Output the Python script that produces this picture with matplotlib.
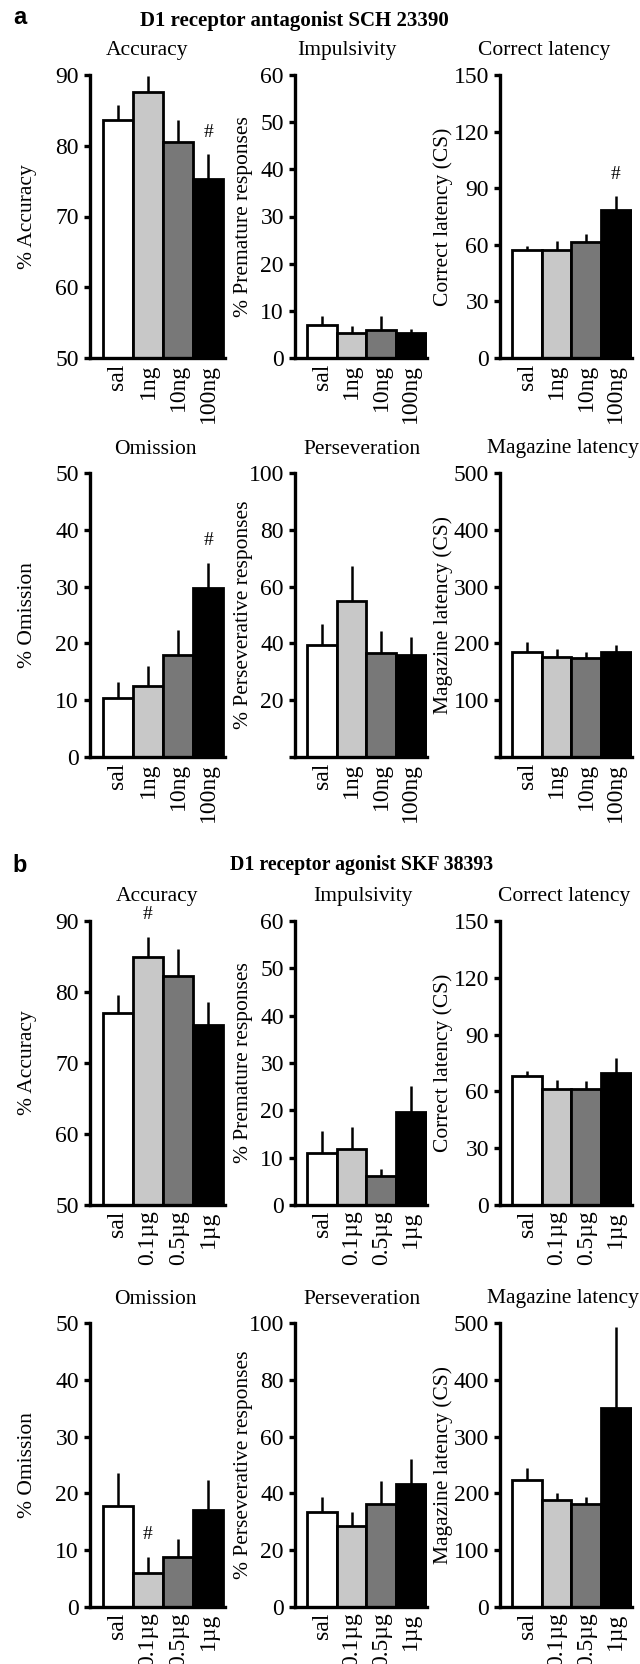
import matplotlib
matplotlib.use("Agg")
import matplotlib.pyplot as plt

# =========================
# DATA
# =========================
doses_a = ["sal", "1ng", "10ng", "100ng"]
doses_b = ["sal", "0.1\u00b5g", "0.5\u00b5g", "1\u00b5g"]
bar_colors = ["white", "#c8c8c8", "#787878", "black"]

# a: D1 receptor antagonist SCH 23390 (mean, upper SEM)
a_accuracy = [83.7, 87.6, 80.5, 75.3]
a_accuracy_err = [2.0, 2.2, 3.2, 3.5]
a_impulsivity = [7.0, 5.2, 5.9, 5.4]
a_impulsivity_err = [1.9, 1.6, 3.0, 0.7]
a_correct_lat = [57.4, 57.4, 61.4, 78.2]
a_correct_lat_err = [2.1, 4.7, 4.4, 7.5]
a_omission = [10.4, 12.5, 18.0, 29.8]
a_omission_err = [2.8, 3.5, 4.4, 4.4]
a_persev = [39.5, 55.1, 36.6, 35.8]
a_persev_err = [7.2, 12.3, 7.6, 6.4]
a_magazine = [185, 176.5, 173.5, 184]
a_magazine_err = [18, 14.5, 11.5, 14]

# b: D1 receptor agonist SKF 38393
b_accuracy = [77.1, 84.9, 82.3, 75.4]
b_accuracy_err = [2.5, 2.9, 3.8, 3.2]
b_impulsivity = [10.9, 11.8, 6.2, 19.7]
b_impulsivity_err = [4.8, 4.6, 1.5, 5.4]
b_correct_lat = [67.9, 61.2, 61.2, 69.9]
b_correct_lat_err = [2.9, 4.8, 4.4, 7.6]
b_omission = [17.7, 6.0, 8.8, 17.1]
b_omission_err = [5.9, 2.8, 3.1, 5.2]
b_persev = [33.5, 28.4, 36.2, 43.4]
b_persev_err = [5.2, 5.1, 8.0, 8.8]
b_magazine = [223.5, 188, 180.6, 350]
b_magazine_err = [20.5, 13, 13.4, 143]

# significance (#) bar index per panel, None = no marker
a_sig = [3, None, 3, 3, None, None]
b_sig = [1, None, None, 1, None, None]

titles = ["Accuracy", "Impulsivity", "Correct latency",
          "Omission", "Perseveration", "Magazine latency"]
ylabels = ["% Accuracy", "% Premature responses", "Correct latency (CS)",
           "% Omission", "% Perseverative responses", "Magazine latency (CS)"]
ylims = [(50, 90), (0, 60), (0, 150), (0, 50), (0, 100), (0, 500)]
yticks = [[50, 60, 70, 80, 90], [0, 10, 20, 30, 40, 50, 60],
          [0, 30, 60, 90, 120, 150], [0, 10, 20, 30, 40, 50],
          [0, 20, 40, 60, 80, 100], [0, 100, 200, 300, 400, 500]]

# =========================
# LAYOUT (pixels)
# =========================
W, H = 640, 1664
ROWS = [(75, 358), (473, 757), (921, 1205), (1323, 1607)]
COL_LEFT = [90, 295, 500]
COL_W = [135, 132, 132]
YLAB_DX = [53, 42, 47]
TITLE_X = [[147, 347, 544], [155, 362, 563], [157, 363, 564], [155, 362, 563]]

SERIF = "Liberation Serif"
plt.rcParams["font.family"] = SERIF


def draw_panel(fig, row, col, vals, errs, doses, k, sig, hide_zero):
    top, bot = ROWS[row]
    left = COL_LEFT[col]
    w = COL_W[col]
    ax = fig.add_axes([left / W, 1 - bot / H, w / W, (bot - top) / H])

    x = list(range(len(vals)))
    ax.bar(x, [v - ylims[k][0] for v in vals], bottom=ylims[k][0], width=1.0,
           color=bar_colors, edgecolor="black", linewidth=2.0, zorder=2)
    ax.vlines(x, vals, [v + e for v, e in zip(vals, errs)],
              color="black", linewidth=1.8, zorder=3)

    if sig is not None:
        ax.annotate("#", (x[sig], vals[sig] + errs[sig]), xytext=(0, 16),
                    textcoords="offset points", ha="center", va="center",
                    fontsize=14)

    ax.set_xlim(-0.92, 3.55)
    ax.set_ylim(*ylims[k])
    ax.set_yticks(yticks[k])
    labels = [str(t) for t in yticks[k]]
    if hide_zero:
        labels[0] = ""
    ax.set_yticklabels(labels)
    ax.set_xticks(x)
    ax.set_xticklabels(doses, rotation=90, va="top", ha="center")

    for s in ["top", "right"]:
        ax.spines[s].set_visible(False)
    for s in ["left", "bottom"]:
        ax.spines[s].set_linewidth(2.4)
    ax.tick_params(axis="y", direction="out", length=4, width=2.4,
                   labelsize=17, pad=4)
    ax.tick_params(axis="x", length=0, labelsize=17, pad=4)

    ax.set_ylabel(ylabels[k], fontsize=15.5)
    ax.yaxis.set_label_coords(-YLAB_DX[col] / w, 0.5)

    tx = TITLE_X[row][col]
    fig.text(tx / W, 1 - (top - 24) / H, titles[k], ha="center", va="center",
             fontsize=15.5)
    return ax


def main():
    fig = plt.figure(figsize=(W / 100, H / 100), dpi=100)

    a_vals = [a_accuracy, a_impulsivity, a_correct_lat,
              a_omission, a_persev, a_magazine]
    a_errs = [a_accuracy_err, a_impulsivity_err, a_correct_lat_err,
              a_omission_err, a_persev_err, a_magazine_err]
    b_vals = [b_accuracy, b_impulsivity, b_correct_lat,
              b_omission, b_persev, b_magazine]
    b_errs = [b_accuracy_err, b_impulsivity_err, b_correct_lat_err,
              b_omission_err, b_persev_err, b_magazine_err]

    for k in range(6):
        r, c = divmod(k, 3)
        hide_a = k in (4, 5)
        draw_panel(fig, r, c, a_vals[k], a_errs[k], doses_a, k, a_sig[k], hide_a)
        draw_panel(fig, r + 2, c, b_vals[k], b_errs[k], doses_b, k, b_sig[k], False)

    # headers
    fig.text(20 / W, 1 - 17 / H, "a", ha="center", va="center",
             fontsize=17, fontweight="bold", family="Liberation Sans")
    fig.text(294 / W, 1 - 21 / H, "D1 receptor antagonist SCH 23390",
             ha="center", va="center", fontsize=15, fontweight="bold")
    fig.text(20 / W, 1 - 866 / H, "b", ha="center", va="center",
             fontsize=17, fontweight="bold", family="Liberation Sans")
    fig.text(362 / W, 1 - 865 / H, "D1 receptor agonist SKF 38393",
             ha="center", va="center", fontsize=14.3, fontweight="bold")

    fig.savefig("out.png", dpi=100)
    plt.close(fig)


if __name__ == "__main__":
    main()
